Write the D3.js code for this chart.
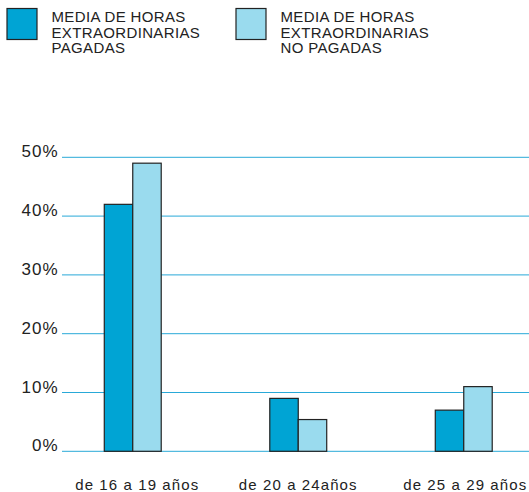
<!DOCTYPE html>
<html>
<head>
<meta charset="utf-8">
<script src="https://cdn.jsdelivr.net/npm/d3@7"></script>
<style>
  body { margin: 0; background: #fff; }
  svg text { font-family: "Liberation Sans", Arial, Helvetica, sans-serif; fill: #222; }
</style>
</head>
<body>
<div id="chart"></div>
<script>
// data
var categories = ['de 16 a 19 años', 'de 20 a 24años', 'de 25 a 29 años'];
var seriesNames = ['pagadas', 'noPagadas'];
var pagadas = [42, 9, 7];
var noPagadas = [49, 5.4, 11];
var yTicks = [0, 10, 20, 30, 40, 50];
var legendLabels = [
  ['MEDIA DE HORAS', 'EXTRAORDINARIAS', 'PAGADAS'],
  ['MEDIA DE HORAS', 'EXTRAORDINARIAS', 'NO PAGADAS']
];

var colors = { pagadas: '#00a4d4', noPagadas: '#9adbee' };
// small nudges so the labels sit where the reference has them
var labelDx = [4.5, 0, 1.5];

var data = categories.map(function(c, i) {
  return { cat: c, pagadas: pagadas[i], noPagadas: noPagadas[i] };
});

var width = 529, height = 492;

var svg = d3.select('#chart')
  .append('svg')
  .attr('width', width)
  .attr('height', height);

// scales
var x = d3.scaleBand()
  .domain(categories)
  .range([50, 546.5])
  .paddingInner(0.656)
  .paddingOuter(0.328);

var xSub = d3.scaleBand()
  .domain(seriesNames)
  .range([0, x.bandwidth()]);

var y = d3.scaleLinear()
  .domain([0, 50])
  .range([451.3, 157.3]);

// gridlines
svg.append('g')
  .selectAll('line')
  .data(yTicks)
  .enter().append('line')
  .attr('x1', 62)
  .attr('x2', width)
  .attr('y1', function(d) { return y(d); })
  .attr('y2', function(d) { return y(d); })
  .attr('stroke', '#29a9d8')
  .attr('stroke-width', 1);

// y axis labels
svg.append('g')
  .selectAll('text')
  .data(yTicks)
  .enter().append('text')
  .attr('x', 58.5)
  .attr('y', function(d) { return y(d); })
  .attr('text-anchor', 'end')
  .attr('font-size', 17)
  .attr('letter-spacing', 1)
  .text(function(d) { return d + '%'; });

// bars
var groups = svg.append('g')
  .selectAll('g')
  .data(data)
  .enter().append('g')
  .attr('transform', function(d) { return 'translate(' + x(d.cat) + ',0)'; });

groups.selectAll('rect')
  .data(function(d) {
    return seriesNames.map(function(k) { return { key: k, value: d[k] }; });
  })
  .enter().append('rect')
  .attr('x', function(d) { return xSub(d.key); })
  .attr('y', function(d) { return y(d.value); })
  .attr('width', xSub.bandwidth())
  .attr('height', function(d) { return y(0) - y(d.value); })
  .attr('fill', function(d) { return colors[d.key]; })
  .attr('stroke', '#222')
  .attr('stroke-width', 1.2);

// x labels
svg.append('g')
  .selectAll('text')
  .data(categories)
  .enter().append('text')
  .attr('x', function(d, i) { return x(d) + x.bandwidth() / 2 + labelDx[i]; })
  .attr('y', 490)
  .attr('text-anchor', 'middle')
  .attr('font-size', 15)
  .attr('letter-spacing', 1.1)
  .text(function(d) { return d; });

// legend
var legendX = [7, 236];
var legend = svg.append('g')
  .selectAll('g')
  .data(seriesNames)
  .enter().append('g')
  .attr('transform', function(d, i) { return 'translate(' + legendX[i] + ',8.5)'; });

legend.append('rect')
  .attr('width', 30)
  .attr('height', 31)
  .attr('fill', function(d) { return colors[d]; })
  .attr('stroke', '#222')
  .attr('stroke-width', 1.2);

legend.each(function(d, i) {
  d3.select(this).selectAll('text')
    .data(legendLabels[i])
    .enter().append('text')
    .attr('x', 44.5)
    .attr('y', function(t, j) { return 13.2 + j * 15.8; })
    .attr('font-size', 15)
    .attr('letter-spacing', 0.35)
    .text(function(t) { return t; });
});
</script>
</body>
</html>
